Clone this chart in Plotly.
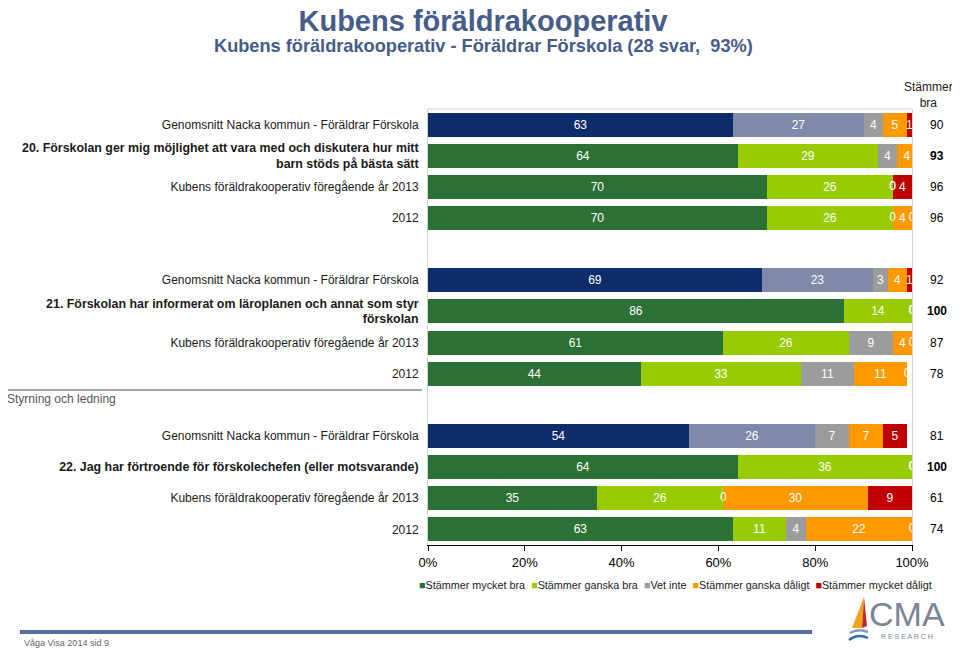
import plotly.graph_objects as go

# ---------------- data ----------------
row_labels = [
    "Genomsnitt Nacka kommun - Föräldrar Förskola",
    "<b>20. Förskolan ger mig möjlighet att vara med och diskutera hur mitt<br>barn stöds på bästa sätt</b>",
    "Kubens föräldrakooperativ föregående år 2013",
    "2012",
    "Genomsnitt Nacka kommun - Föräldrar Förskola",
    "<b>21. Förskolan har informerat om läroplanen och annat som styr<br>förskolan</b>",
    "Kubens föräldrakooperativ föregående år 2013",
    "2012",
    "Genomsnitt Nacka kommun - Föräldrar Förskola",
    "<b>22. Jag har förtroende för förskolechefen (eller motsvarande)</b>",
    "Kubens föräldrakooperativ föregående år 2013",
    "2012",
]
row_group = [0, 0, 0, 0, 1, 1, 1, 1, 2, 2, 2, 2]
row_in_group = [0, 1, 2, 3, 0, 1, 2, 3, 0, 1, 2, 3]
is_nacka = [True, False, False, False, True, False, False, False, True, False, False, False]

series_names = ["Stämmer mycket bra", "Stämmer ganska bra", "Vet inte",
                "Stämmer ganska dåligt", "Stämmer mycket dåligt"]
v_mycket_bra = [63, 64, 70, 70, 69, 86, 61, 44, 54, 64, 35, 63]
v_ganska_bra = [27, 29, 26, 26, 23, 14, 26, 33, 26, 36, 26, 11]
v_vet_inte = [4, 4, 0, 0, 3, 0, 9, 11, 7, 0, 0, 4]
v_ganska_daligt = [5, 4, 0, 4, 4, 0, 4, 11, 7, 0, 30, 22]
v_mycket_daligt = [1, 0, 4, 0, 1, 0, 0, 0, 5, 0, 9, 0]
stammer_bra = [90, 93, 96, 96, 92, 100, 87, 78, 81, 100, 61, 74]
x_ticks = [0, 20, 40, 60, 80, 100]
x_tick_labels = [f"{v}%" for v in x_ticks]

# ---------------- style ----------------
colors_main = ["#2B7135", "#99CC00", "#9C9C9C", "#FF9900", "#C00000"]
colors_nacka = ["#0D2C6C", "#8089A8", "#9C9C9C", "#FF9900", "#C00000"]
FONT = "Liberation Sans, Arial, sans-serif"
TITLE_COL = "#465C8B"

OFF = 8  # page body margin
W, H = 960 - 2 * OFF, 657 - 2 * OFF  # fit inside the window without scrollbars
PL, PR, PT, PB = 428 - OFF, 912 - OFF, 109 - OFF, 545 - OFF


def px(x):
    return (x - OFF - PL) / (PR - PL)


def py(y):
    return (PB - (y - OFF)) / (PB - PT)


def fmt_label(lab):
    if lab.startswith("<b>"):
        return f'<span style="font-size:12.4px">{lab}</span>'
    return lab


def note(x, y, text, size, color="#222", xanchor="center", family=FONT):
    return dict(x=px(x), xref="paper", y=py(y), yref="paper", text=text, showarrow=False,
                xanchor=xanchor, yanchor="middle",
                font=dict(size=size, color=color, family=family))


y_pos = [g * 5 + r for g, r in zip(row_group, row_in_group)]
values = [v_mycket_bra, v_ganska_bra, v_vet_inte, v_ganska_daligt, v_mycket_daligt]

fig = go.Figure()
cum = [0] * len(y_pos)
zero_x, zero_y = [], []
for k, name in enumerate(series_names):
    cols = [colors_nacka[k] if n else colors_main[k] for n in is_nacka]
    fig.add_trace(go.Bar(
        x=values[k], y=y_pos, orientation="h", name=name,
        marker=dict(color=cols, line=dict(width=0)),
        width=0.77,
        text=[str(v) for v in values[k]],
        textposition="inside", insidetextanchor="middle",
        constraintext="none", textangle=0,
        textfont=dict(color="white", size=12, family=FONT),
        showlegend=False, hoverinfo="x+name",
    ))
    for i, v in enumerate(values[k]):
        if v == 0:
            zero_x.append(cum[i])
            zero_y.append(y_pos[i])
        cum[i] += v

# labels for zero-width segments
fig.add_trace(go.Scatter(
    x=zero_x, y=zero_y, mode="text", text=["0"] * len(zero_x),
    textfont=dict(color="white", size=12, family=FONT),
    textposition="middle center", cliponaxis=True, showlegend=False, hoverinfo="skip"))

annotations = []
# right column "Stämmer bra"
for yp, v, lab in zip(y_pos, stammer_bra, row_labels):
    bold = lab.startswith("<b>")
    annotations.append(dict(
        x=px(937), xref="paper", y=yp, yref="y",
        text=f"<b>{v}</b>" if bold else str(v), showarrow=False,
        font=dict(size=12, color="black", family=FONT), xanchor="center", yanchor="middle"))
annotations.append(note(928, 95, "Stämmer<br>bra", 12))
annotations.append(note(5, 399, "Styrning och ledning", 12, color="#555", xanchor="left"))
annotations.append(note(483, 46, "<b>Kubens föräldrakooperativ - Föräldrar Förskola (28 svar,  93%)</b>",
                        18.2, color=TITLE_COL))
# legend (compact, as in reference)
legend_parts = [f'<span style="color:{c}">■</span>{n}' for c, n in zip(colors_main, series_names)]
annotations.append(note(675, 585, "  ".join(legend_parts), 10.8))
# footer
annotations.append(note(22, 643, "Våga Visa 2014 sid 9", 9, color="#666", xanchor="left"))
annotations.append(note(907, 614, "CMA", 34, color="#7A8598",
                        family="Liberation Sans Narrow, Liberation Sans"))
annotations.append(note(907, 636, "R E S E A R C H", 7, color="#7A8598"))

shapes = [
    dict(type="line", xref="paper", yref="paper", x0=0, x1=1, y0=1, y1=1,
         line=dict(color="#D0D0D0", width=1)),
    dict(type="line", xref="paper", yref="paper", x0=px(8), x1=px(422), y0=py(390), y1=py(390),
         line=dict(color="#888", width=1.5)),
    dict(type="line", xref="paper", yref="paper", x0=px(20), x1=px(812), y0=py(632), y1=py(632),
         line=dict(color="#5570A0", width=4)),
    dict(type="path", xref="paper", yref="paper",
         path=f"M {px(864)},{py(597)} L {px(852)},{py(628)} L {px(862)},{py(628)} Z",
         fillcolor="#F2A31B", line=dict(width=0)),
    dict(type="path", xref="paper", yref="paper",
         path=f"M {px(864)},{py(597)} L {px(862)},{py(628)} L {px(867)},{py(626)} Z",
         fillcolor="#C0282E", line=dict(width=0)),
    dict(type="path", xref="paper", yref="paper",
         path=f"M {px(850)},{py(633)} Q {px(858)},{py(628)} {px(868)},{py(632)}",
         line=dict(color="#8A9AB0", width=2.5)),
    dict(type="path", xref="paper", yref="paper",
         path=f"M {px(849)},{py(640)} Q {px(858)},{py(633)} {px(868)},{py(638)}",
         line=dict(color="#2F6FB0", width=2.5)),
]

fig.update_layout(
    width=W, height=H,
    margin=dict(l=PL, r=W - PR, t=PT, b=H - PB, autoexpand=False),
    barmode="stack",
    bargap=0,
    showlegend=False,
    plot_bgcolor="white", paper_bgcolor="white",
    font=dict(family=FONT, color="#222"),
    title=dict(text="<b>Kubens föräldrakooperativ</b>", x=(483 - OFF) / W, xanchor="center",
               y=1 - (21 - OFF) / H, yanchor="middle", xref="container", yref="container",
               font=dict(size=29, color=TITLE_COL, family=FONT)),
    xaxis=dict(range=[0, 100], tickmode="array", tickvals=x_ticks, ticktext=x_tick_labels,
               automargin=False,
               showgrid=False, zeroline=False, showline=True, linecolor="black", linewidth=1,
               ticks="outside", ticklen=5, tickcolor="black",
               tickfont=dict(size=13, color="black", family=FONT), fixedrange=True),
    yaxis=dict(range=[13.5, -0.5], tickmode="array", tickvals=y_pos, automargin=False,
               ticktext=[fmt_label(l) for l in row_labels], showgrid=False,
               zeroline=False, showline=True, linecolor="#D0D0D0", mirror=True,
               ticks="", ticklabelstandoff=6,
               tickfont=dict(size=12, color="#1a1a1a", family=FONT)),
    annotations=annotations,
    shapes=shapes,
)

fig.write_html("out.html")
